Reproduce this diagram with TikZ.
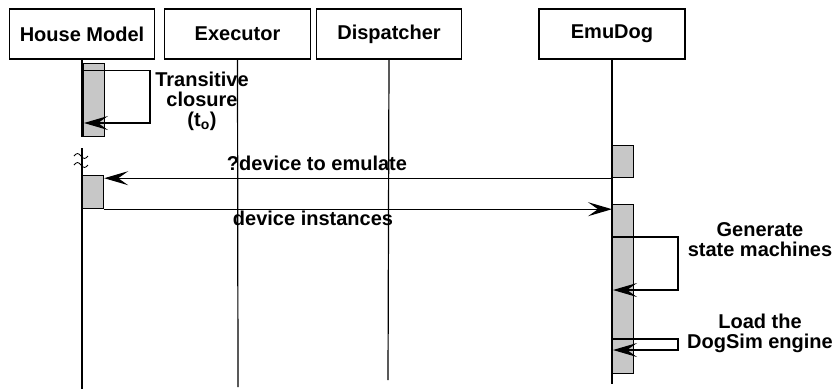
\documentclass[tikz,border=0pt]{standalone}
\usepackage{fontspec}
\setmainfont{Liberation Sans}
\usetikzlibrary{arrows.meta,positioning}
\tikzset{
  head/.style={draw, line width=1.2pt, minimum height=50pt, inner sep=0pt,
    font=\bfseries\fontsize{20}{20}\selectfont},
  act/.style={draw, line width=1.2pt, fill=black!22, minimum width=21pt,
    inner sep=0pt, anchor=north west},
  msg/.style={line width=1.2pt, -{Stealth[length=24pt,width=14pt,inset=10pt]}},
  lbl/.style={font=\bfseries\fontsize{20}{20}\selectfont, align=center, inner sep=0pt},
  life/.style={line width=1.2pt}
}
\begin{document}
\begin{tikzpicture}[x=1pt,y=-1pt]
  \useasboundingbox (0,0) rectangle (837,389);
  \node[head, minimum width=145pt] (hm) at (82,34) {House Model};
  \node[head, minimum width=146pt] (ex) at (237.5,34) {Executor};
  \node[head, minimum width=145pt] (di) at (389,34) {Dispatcher};
  \node[head, minimum width=146pt] (emu) at (612,34) {EmuDog};
  \coordinate (hmEnd) at (82,389);
  \coordinate (exEnd) at (238,387);
  \coordinate (diEnd) at (388,380);
  \coordinate (emuEnd) at (612,384);
  \coordinate (hmGap) at (82,137);
  \coordinate (hmRes) at (82,148);
  \draw[life] (hm.south) -- (hmGap);
  \draw[life] (hmRes) -- (hmEnd);
  \draw[life] (ex.south) -- (exEnd);
  \draw[life] (di.south) -- (diEnd);
  \draw[life] (emu.south) -- (emuEnd);
  \draw[line width=0.8pt] (74,156) sin (77.5,153.5) cos (81,156) sin (84.5,158.5) cos (88,156);
  \draw[line width=0.8pt] (74,165) sin (77.5,162.5) cos (81,165) sin (84.5,167.5) cos (88,165);
  \node[act, minimum height=73pt] (hmA) at (83,63) {};
  \node[act, minimum height=33pt] (hmB) at (82,175) {};
  \node[act, minimum height=32pt] (emuA) at (612,145) {};
  \node[act, minimum height=169pt] (emuB) at (612,204) {};
  \draw[msg] ([shift={(1,7.5)}]hmA.north west) -- ++(66,0) -- ++(0,52.5) -- ++(-66,0);
  \node[lbl] (tc) at (202,101) {Transitive\\closure\\(t\textsubscript{o})};
  \draw[msg] (emuA.south west) -- (emuA.south west -| hmB.east);
  \node[lbl] (q) at (317,163) {?device to emulate};
  \draw[msg] (hmB.south east) -- (hmB.south east -| emuB.west);
  \node[lbl] (di2) at (313,218) {device instances};
  \draw[msg] ([shift={(1,33)}]emuB.north west) -- ++(65,0) -- ++(0,53) -- ++(-65,0);
  \node[lbl] (gen) at (760,240) {Generate\\state machines};
  \draw[msg] ([shift={(1,135)}]emuB.north west) -- ++(65,0) -- ++(0,11) -- ++(-65,0);
  \node[lbl] (load) at (760,333) {Load the\\DogSim engine};
\end{tikzpicture}
\end{document}
